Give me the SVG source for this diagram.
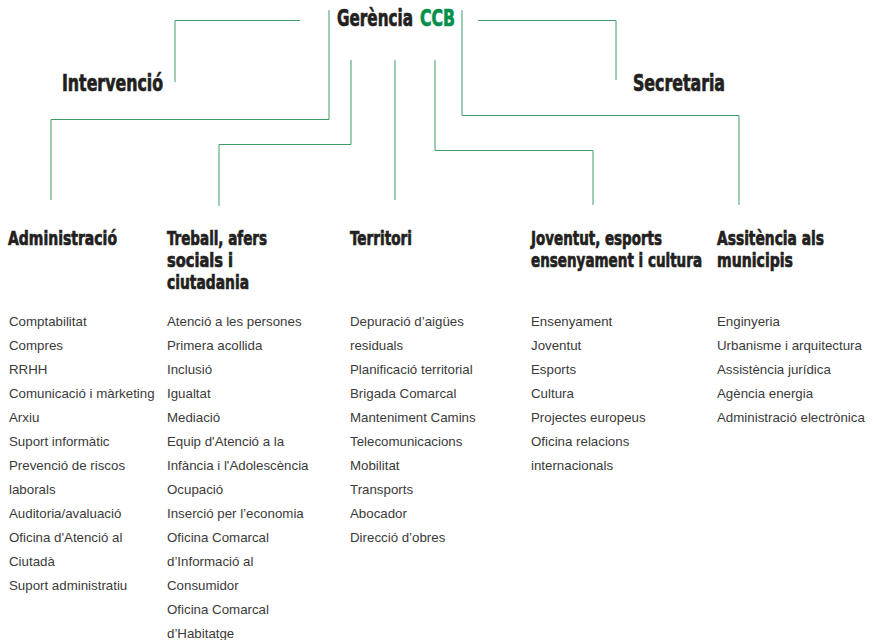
<svg xmlns="http://www.w3.org/2000/svg" width="873" height="640" viewBox="0 0 873 640">
<style>
.h{font-family:"Liberation Sans Narrow","DejaVu Sans Condensed","Liberation Sans",sans-serif;font-weight:bold;fill:#231f20;stroke:#231f20;stroke-width:0.7}
.t{font-size:22.5px}
.s{font-size:20px}
.g{fill:#00904a;stroke:#00904a}
.i{font-family:"Liberation Sans",Arial,sans-serif;font-size:13.3px;fill:#3a3a3a}
.c{fill:none;stroke:#3f9c66;stroke-width:1}
</style>
<rect width="873" height="640" fill="#ffffff"/>
<g id="connectors">
<polyline class="c" points="300,20.5 175,20.5 175,82"/>
<polyline class="c" points="329,10 329,119.5 51,119.5 51,200"/>
<polyline class="c" points="351,60 351,144.5 219,144.5 219,206"/>
<polyline class="c" points="395,60 395,200"/>
<polyline class="c" points="435,60 435,150.5 593,150.5 593,205"/>
<polyline class="c" points="462,10 462,115.5 739,115.5 739,205"/>
<polyline class="c" points="478,20.5 616,20.5 616,80"/>
</g>
<g id="gerencia">
<text class="h t" x="337" y="26" textLength="76" lengthAdjust="spacingAndGlyphs">Gerència</text>
<text class="h t g" x="420" y="26" textLength="35" lengthAdjust="spacingAndGlyphs">CCB</text>
</g>
<g id="intervencio">
<text class="h t" x="62" y="91" textLength="101" lengthAdjust="spacingAndGlyphs">Intervenció</text>
</g>
<g id="secretaria">
<text class="h t" x="633" y="91" textLength="92" lengthAdjust="spacingAndGlyphs">Secretaria</text>
</g>
<g id="administracio">
<text class="h s" x="8" y="245" textLength="109" lengthAdjust="spacingAndGlyphs">Administració</text>
<g class="i">
<text x="9" y="326">Comptabilitat</text>
<text x="9" y="350">Compres</text>
<text x="9" y="374">RRHH</text>
<text x="9" y="398">Comunicació i màrketing</text>
<text x="9" y="422">Arxiu</text>
<text x="9" y="446">Suport informàtic</text>
<text x="9" y="470">Prevenció de riscos</text>
<text x="9" y="494">laborals</text>
<text x="9" y="518">Auditoria/avaluació</text>
<text x="9" y="542">Oficina d'Atenció al</text>
<text x="9" y="566">Ciutadà</text>
<text x="9" y="590">Suport administratiu</text>
</g>
</g>
<g id="treball">
<text class="h s" x="167" y="245" textLength="100" lengthAdjust="spacingAndGlyphs">Treball, afers</text>
<text class="h s" x="167" y="267" textLength="66" lengthAdjust="spacingAndGlyphs">socials i</text>
<text class="h s" x="167" y="289" textLength="82" lengthAdjust="spacingAndGlyphs">ciutadania</text>
<g class="i">
<text x="167" y="326">Atenció a les persones</text>
<text x="167" y="350">Primera acollida</text>
<text x="167" y="374">Inclusió</text>
<text x="167" y="398">Igualtat</text>
<text x="167" y="422">Mediació</text>
<text x="167" y="446">Equip d'Atenció a la</text>
<text x="167" y="470">Infància i l'Adolescència</text>
<text x="167" y="494">Ocupació</text>
<text x="167" y="518">Inserció per l’economia</text>
<text x="167" y="542">Oficina Comarcal</text>
<text x="167" y="566">d’Informació al</text>
<text x="167" y="590">Consumidor</text>
<text x="167" y="614">Oficina Comarcal</text>
<text x="167" y="638">d’Habitatge</text>
</g>
</g>
<g id="territori">
<text class="h s" x="350" y="245" textLength="62" lengthAdjust="spacingAndGlyphs">Territori</text>
<g class="i">
<text x="350" y="326">Depuració d’aigües</text>
<text x="350" y="350">residuals</text>
<text x="350" y="374">Planificació territorial</text>
<text x="350" y="398">Brigada Comarcal</text>
<text x="350" y="422">Manteniment Camins</text>
<text x="350" y="446">Telecomunicacions</text>
<text x="350" y="470">Mobilitat</text>
<text x="350" y="494">Transports</text>
<text x="350" y="518">Abocador</text>
<text x="350" y="542">Direcció d’obres</text>
</g>
</g>
<g id="joventut">
<text class="h s" x="531" y="245" textLength="131" lengthAdjust="spacingAndGlyphs">Joventut, esports</text>
<text class="h s" x="531" y="267" textLength="171" lengthAdjust="spacingAndGlyphs">ensenyament i cultura</text>
<g class="i">
<text x="531" y="326">Ensenyament</text>
<text x="531" y="350">Joventut</text>
<text x="531" y="374">Esports</text>
<text x="531" y="398">Cultura</text>
<text x="531" y="422">Projectes europeus</text>
<text x="531" y="446">Oficina relacions</text>
<text x="531" y="470">internacionals</text>
</g>
</g>
<g id="assistencia">
<text class="h s" x="717" y="245" textLength="107" lengthAdjust="spacingAndGlyphs">Assitència als</text>
<text class="h s" x="717" y="267" textLength="76" lengthAdjust="spacingAndGlyphs">municipis</text>
<g class="i">
<text x="717" y="326">Enginyeria</text>
<text x="717" y="350">Urbanisme i arquitectura</text>
<text x="717" y="374">Assistència jurídica</text>
<text x="717" y="398">Agència energia</text>
<text x="717" y="422">Administració electrònica</text>
</g>
</g>
</svg>
